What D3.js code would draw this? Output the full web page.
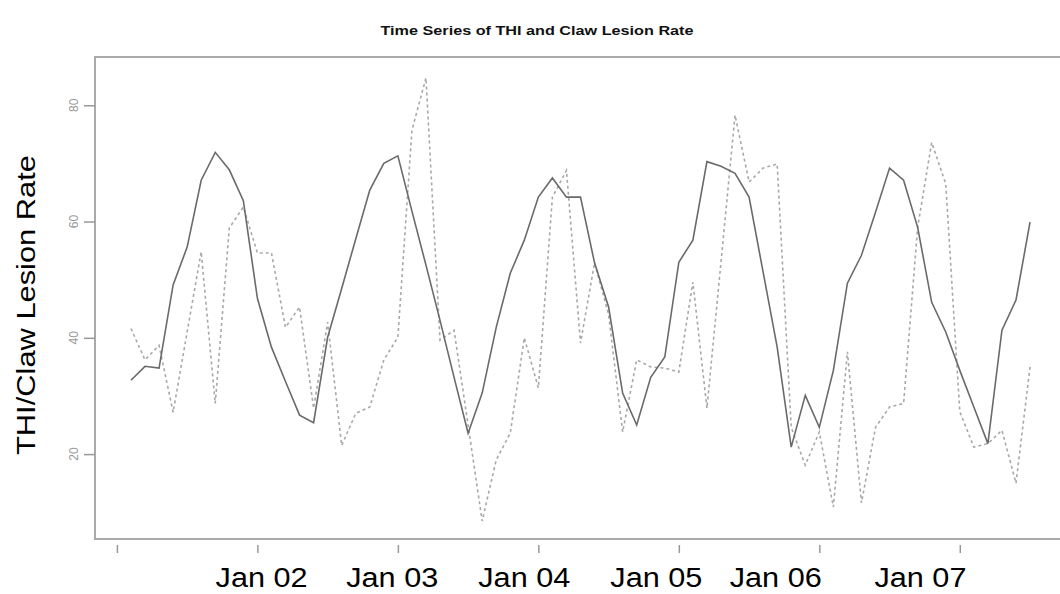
<html>
<style>
body { margin: 0; background: white; }
</style>
<script src="https://d3js.org/d3.v7.min.js"></script>
<body>
<svg id="main_vis" width=1060 height=594></svg>
<script>

// THI (solid) and claw lesion rate (dashed), one value per period 1..65
var thi = [32.7, 35.1, 34.8, 49.1, 55.6, 67.1, 71.9, 68.9, 63.6, 46.8,
           38.4, 32.5, 26.7, 25.4, 40.1, 48.5, 57.0, 65.4, 70.0, 71.3,
           61.8, 52.5, 43.0, 33.2, 23.6, 30.5, 41.8, 51.1, 56.8, 64.2,
           67.5, 64.2, 64.2, 52.9, 45.3, 30.5, 25.0, 33.2, 36.7, 53.0,
           56.8, 70.3, 69.5, 68.3, 64.2, 51.3, 38.4, 21.2, 30.1, 24.6,
           34.4, 49.4, 54.2, 61.6, 69.2, 67.1, 59.0, 46.1, 41.0, 34.4,
           28.1, 21.8, 41.3, 46.5, 59.9];

var lesion = [41.6, 36.2, 38.7, 27.2, 41.0, 54.8, 28.7, 58.9, 62.5, 54.6,
              54.6, 41.8, 45.3, 27.9, 42.7, 21.5, 27.0, 28.1, 36.2, 40.1,
              75.7, 84.7, 39.6, 41.3, 25.0, 8.5, 19.0, 23.6, 40.0, 31.4,
              64.2, 68.8, 39.1, 52.9, 44.0, 23.8, 36.2, 35.0, 34.8, 34.1,
              49.6, 27.9, 53.0, 78.3, 66.8, 69.2, 69.9, 24.6, 18.1, 23.8,
              10.9, 37.6, 11.6, 24.6, 28.1, 28.7, 59.0, 73.6, 66.5, 27.3,
              21.2, 21.8, 24.1, 15.0, 35.0];

var xTicks = [0, 10, 20, 30, 40, 50, 60];
var yTicks = [20, 40, 60, 80];

// hand placed date labels under the axis
var dateLabels = ["Jan 02", "Jan 03", "Jan 04", "Jan 05", "Jan 06", "Jan 07"];
var dateLabelPos = [10.3, 19.6, 29.0, 38.4, 46.9, 57.2];

var svg = d3.select("#main_vis");

var x = d3.scaleLinear()
  .domain([-1.56, 67.56])
  .range([95, 1066]);

var y = d3.scaleLinear()
  .domain([5.4, 88.3])
  .range([539, 57]);

// title
svg.append("text")
  .attr("x", 537)
  .attr("y", 35)
  .attr("text-anchor", "middle")
  .attr("font-family", "Liberation Sans, Arial, sans-serif")
  .attr("font-weight", "bold")
  .attr("font-size", "12.5px")
  .attr("textLength", 313)
  .attr("lengthAdjust", "spacingAndGlyphs")
  .attr("fill", "#111")
  .text("Time Series of THI and Claw Lesion Rate");

// box
svg.append("rect")
  .attr("x", x(-1.56))
  .attr("y", y(88.3))
  .attr("width", x(67.56) - x(-1.56))
  .attr("height", y(5.4) - y(88.3))
  .attr("fill", "none")
  .attr("stroke", "#aaa")
  .attr("stroke-width", 2);

// Add Y axis (ticks on the box, labels rotated)
var yAxis = svg.append("g")
  .attr("transform", "translate(" + x(-1.56) + ",0)")
  .call(d3.axisLeft(y).tickValues(yTicks).tickSize(11).tickFormat(""));
yAxis.select(".domain").remove();
yAxis.selectAll("line").attr("stroke", "#999").attr("stroke-width", 1.5);

svg.selectAll(".ylab")
  .data(yTicks)
  .enter().append("text")
  .attr("class", "ylab")
  .attr("transform", function(d) { return "translate(78," + y(d) + ") rotate(-90)"; })
  .attr("text-anchor", "middle")
  .attr("font-family", "Liberation Sans, Arial, sans-serif")
  .attr("font-size", "12px")
  .attr("fill", "#999")
  .text(function(d) { return d; });

// Add X axis (ticks only, no labels)
var xAxis = svg.append("g")
  .attr("transform", "translate(0,545)")
  .call(d3.axisBottom(x).tickValues(xTicks).tickSize(8).tickFormat(""));
xAxis.select(".domain").remove();
xAxis.selectAll("line").attr("stroke", "#999").attr("stroke-width", 1.5);

svg.selectAll(".xlab")
  .data(dateLabels)
  .enter().append("text")
  .attr("class", "xlab")
  .attr("x", function(d, i) { return x(dateLabelPos[i]); })
  .attr("y", 587)
  .attr("text-anchor", "middle")
  .attr("font-family", "Liberation Sans, Arial, sans-serif")
  .attr("font-size", "27px")
  .attr("textLength", 92)
  .attr("lengthAdjust", "spacingAndGlyphs")
  .attr("fill", "#000")
  .text(function(d) { return d; });

// y axis title
svg.append("text")
  .attr("transform", "translate(35,305) rotate(-90)")
  .attr("text-anchor", "middle")
  .attr("font-family", "Liberation Sans, Arial, sans-serif")
  .attr("font-size", "25px")
  .attr("textLength", 300)
  .attr("lengthAdjust", "spacingAndGlyphs")
  .attr("fill", "#000")
  .text("THI/Claw Lesion Rate");

var line = d3.line()
  .x(function(d, i) { return x(i + 1); })
  .y(function(d) { return y(d); });

// dashed: lesion rate
svg.append("path")
  .datum(lesion)
  .attr("fill", "none")
  .attr("stroke", "#a8a8a8")
  .attr("stroke-width", 1.6)
  .attr("stroke-dasharray", "3,3")
  .attr("d", line);

// solid: THI
svg.append("path")
  .datum(thi)
  .attr("fill", "none")
  .attr("stroke", "#6a6a6a")
  .attr("stroke-width", 1.6)
  .attr("d", line);

</script>
</body>
</html>
